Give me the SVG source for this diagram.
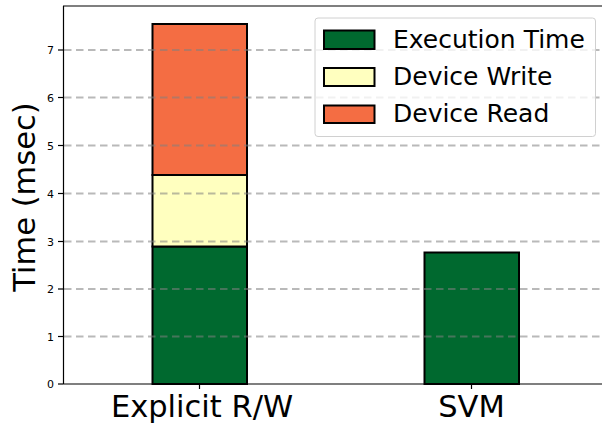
<svg xmlns="http://www.w3.org/2000/svg" width="602" height="423" viewBox="0 0 602 423">
<style>
text{font-family:"DejaVu Sans","Liberation Sans",sans-serif;fill:#000}
.tick{font-size:11px;text-anchor:end}
.big{font-size:30.5px;text-anchor:middle}
.leg{font-size:25px}
.bar{stroke:#000;stroke-width:2}
.grid{stroke:#808080;stroke-opacity:0.55;stroke-width:2;stroke-dasharray:7.5,4.5}
.g{fill:#00692f}.y{fill:#ffffbf}.o{fill:#f46d43}
</style>
<rect width="602" height="423" fill="#fff"/>
<g id="bars">
<g id="explicit">
<rect class="bar g" x="152.5" y="246.5" width="94.5" height="137.5"/>
<rect class="bar y" x="152.5" y="175" width="94.5" height="71.5"/>
<rect class="bar o" x="152.5" y="24" width="94.5" height="151"/>
</g>
<g id="svm">
<rect class="bar g" x="424.5" y="252.5" width="94.5" height="131.5"/>
</g>
</g>
<g id="grid">
<line class="grid" x1="64" y1="336.5" x2="602" y2="336.5"/>
<line class="grid" x1="64" y1="289" x2="602" y2="289"/>
<line class="grid" x1="64" y1="241.5" x2="602" y2="241.5"/>
<line class="grid" x1="64" y1="193.5" x2="602" y2="193.5"/>
<line class="grid" x1="64" y1="145.5" x2="602" y2="145.5"/>
<line class="grid" x1="64" y1="97.5" x2="602" y2="97.5"/>
<line class="grid" x1="64" y1="50" x2="602" y2="50"/>
</g>
<g id="axes" stroke="#000" stroke-width="1.2" fill="none">
<line x1="63.5" y1="6" x2="63.5" y2="384"/>
<line x1="63" y1="6" x2="602" y2="6"/>
<line x1="63" y1="384" x2="602" y2="384"/>
<line x1="58" y1="384" x2="63" y2="384"/>
<line x1="58" y1="336.5" x2="63" y2="336.5"/>
<line x1="58" y1="289" x2="63" y2="289"/>
<line x1="58" y1="241.5" x2="63" y2="241.5"/>
<line x1="58" y1="193.5" x2="63" y2="193.5"/>
<line x1="58" y1="145.5" x2="63" y2="145.5"/>
<line x1="58" y1="97.5" x2="63" y2="97.5"/>
<line x1="58" y1="50" x2="63" y2="50"/>
<line x1="199.5" y1="384" x2="199.5" y2="389"/>
<line x1="471.5" y1="384" x2="471.5" y2="389"/>
</g>
<g id="yticks">
<text class="tick" x="54" y="388">0</text>
<text class="tick" x="54" y="340.5">1</text>
<text class="tick" x="54" y="293">2</text>
<text class="tick" x="54" y="245.5">3</text>
<text class="tick" x="54" y="197.5">4</text>
<text class="tick" x="54" y="149.5">5</text>
<text class="tick" x="54" y="101.5">6</text>
<text class="tick" x="54" y="54">7</text>
</g>
<text class="big" x="202" y="417">Explicit R/W</text>
<text class="big" x="471.5" y="417">SVM</text>
<text class="big" transform="translate(35,197) rotate(-90)">Time (msec)</text>
<g id="legend">
<rect x="315" y="18" width="280.5" height="118.5" rx="3" fill="#fff" fill-opacity="0.8" stroke="#d0d0d0" stroke-width="1"/>
<rect class="bar g" x="324" y="30.5" width="50.5" height="18.5"/>
<rect class="bar y" x="324" y="68" width="50.5" height="18"/>
<rect class="bar o" x="324" y="105.5" width="50.5" height="17.5"/>
<text class="leg" x="393" y="47.5">Execution Time</text>
<text class="leg" x="393" y="84.5">Device Write</text>
<text class="leg" x="393" y="121.5">Device Read</text>
</g>
</svg>
